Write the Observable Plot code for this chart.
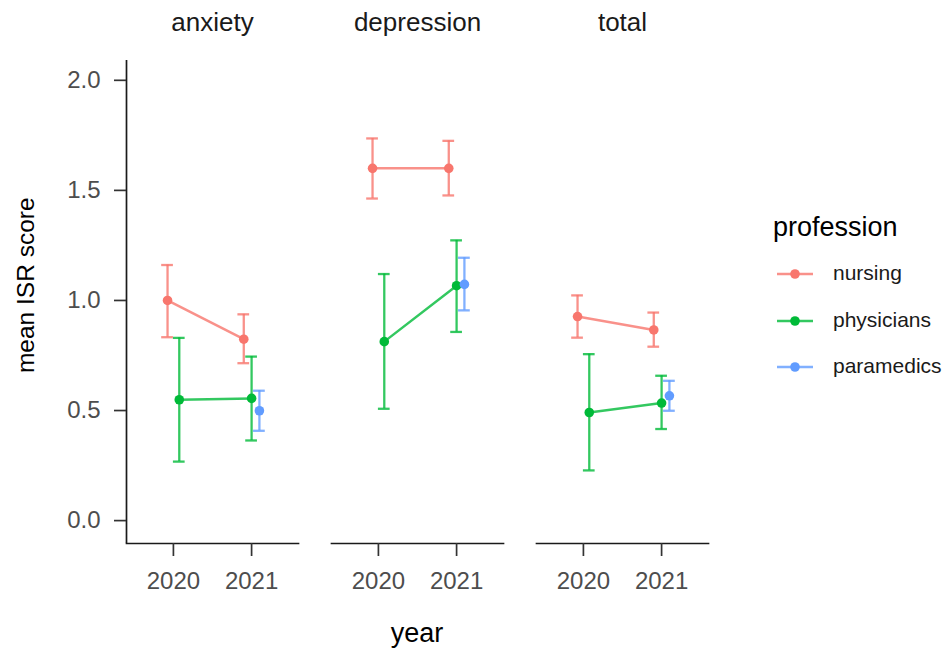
<!DOCTYPE html>
<html><head><meta charset="utf-8">
<script src="https://cdn.jsdelivr.net/npm/d3@7"></script>
<script src="https://cdn.jsdelivr.net/npm/@observablehq/plot@0.6"></script>
<style>
body{margin:0;background:#fff;}
#wrap{position:relative;width:949px;height:650px;font-family:"Liberation Sans",Arial,sans-serif;overflow:hidden;}
.lbl{position:absolute;white-space:nowrap;line-height:1;}
</style></head><body><div id="wrap"></div>
<script>
const measures = ["anxiety", "depression", "total"];
const professions = ["nursing", "physicians", "paramedics"];
const colors = ["#F8766D", "#00BA38", "#619CFF"];
const years = [2020, 2021];
const yTicks = [0, 0.5, 1, 1.5, 2];

// order: anxiety 2020, anxiety 2021, depression 2020, depression 2021, total 2020, total 2021
const nursingMean = [1.000, 0.824, 1.600, 1.600, 0.927, 0.866];
const nursingLow  = [0.833, 0.715, 1.463, 1.477, 0.831, 0.790];
const nursingHigh = [1.161, 0.937, 1.736, 1.725, 1.023, 0.945];
const physiciansMean = [0.549, 0.555, 0.813, 1.067, 0.491, 0.534];
const physiciansLow  = [0.268, 0.364, 0.508, 0.857, 0.228, 0.416];
const physiciansHigh = [0.830, 0.745, 1.120, 1.273, 0.756, 0.658];
// paramedics: 2021 only; order anxiety, depression, total
const paramedicsMean = [0.499, 1.073, 0.567];
const paramedicsLow  = [0.408, 0.955, 0.499];
const paramedicsHigh = [0.590, 1.194, 0.635];

const rows = [];
measures.forEach((m, i) => {
  years.forEach((yr, j) => {
    const k = i * 2 + j;
    rows.push({measure: m, profession: "nursing", year: yr, mean: nursingMean[k], low: nursingLow[k], high: nursingHigh[k]});
    rows.push({measure: m, profession: "physicians", year: yr, mean: physiciansMean[k], low: physiciansLow[k], high: physiciansHigh[k]});
  });
  rows.push({measure: m, profession: "paramedics", year: 2021, mean: paramedicsMean[i], low: paramedicsLow[i], high: paramedicsHigh[i]});
});

// position dodge (width 0.3)
const dodgeWidth = 0.3;
d3.group(rows, d => d.measure, d => d.year).forEach(byYear => byYear.forEach(g => {
  g.sort((a, b) => professions.indexOf(a.profession) - professions.indexOf(b.profession));
  const n = g.length;
  g.forEach((d, i) => { d.x = d.year + (i - (n - 1) / 2) * dodgeWidth / n; });
}));
const capHalf = 0.075;
const xDomain = [2019.4, 2021.6];
const yDomain = [-0.104, 2.09];
const ink = "#1a1a1a";

const chart = Plot.plot({
  width: 949, height: 650,
  marginLeft: 126, marginRight: 241, marginTop: 60, marginBottom: 107,
  style: {fontFamily: '"Liberation Sans", Arial, sans-serif', fontSize: "24px", background: "white", overflow: "visible"},
  fx: {domain: measures, paddingInner: 0.161, paddingOuter: 0, label: null},
  x: {domain: xDomain},
  y: {domain: yDomain},
  color: {domain: professions, range: colors},
  marks: [
    Plot.frame({anchor: "bottom", stroke: ink, strokeWidth: 1.7}),
    Plot.ruleX([measures[0]], {fx: d => d, x: () => xDomain[0], stroke: ink, strokeWidth: 1.7}),
    Plot.axisFx({anchor: "top", tickSize: 0, tickPadding: 30, fontSize: 26, fill: ink, label: null}),
    Plot.axisX({ticks: years, tickFormat: "d", tickSize: 13, tickPadding: 15, stroke: "#333", strokeWidth: 1.7, fill: "#4D4D4D", label: null, fontSize: 24}),
    Plot.axisY({ticks: yTicks, tickFormat: ".1f", tickSize: 12, tickPadding: 14, stroke: "#333", strokeWidth: 1.7, fill: "#4D4D4D", label: null, fontSize: 24}),
    Plot.ruleX(rows, {fx: "measure", x: "x", y1: "low", y2: "high", stroke: "profession", strokeWidth: 2.3, strokeOpacity: 0.8}),
    Plot.ruleY(rows, {fx: "measure", y: "high", x1: d => d.x - capHalf, x2: d => d.x + capHalf, stroke: "profession", strokeWidth: 2.3, strokeOpacity: 0.8}),
    Plot.ruleY(rows, {fx: "measure", y: "low", x1: d => d.x - capHalf, x2: d => d.x + capHalf, stroke: "profession", strokeWidth: 2.3, strokeOpacity: 0.8}),
    Plot.line(rows, {fx: "measure", x: "x", y: "mean", z: "profession", stroke: "profession", strokeWidth: 2.5, strokeOpacity: 0.8}),
    Plot.dot(rows, {fx: "measure", x: "x", y: "mean", r: 4.8, fill: "profession", stroke: "none"})
  ]
});

const wrap = document.getElementById("wrap");
wrap.appendChild(chart);

function addLabel(text, left, top, size, color) {
  const d = document.createElement("div");
  d.className = "lbl";
  d.style.left = left + "px"; d.style.top = top + "px";
  d.style.fontSize = size + "px"; d.style.color = color;
  d.textContent = text;
  wrap.appendChild(d);
  return d;
}

// axis titles
const yr = addLabel("year", 0, 620, 27, "#000");
yr.style.left = (417 - yr.getBoundingClientRect().width / 2) + "px";
{
  const w = addLabel("mean ISR score", 0, 0, 24.5, "#000");
  const bw = w.getBoundingClientRect().width;
  const bh = w.getBoundingClientRect().height;
  w.style.left = (26 - bw / 2) + "px";
  w.style.top = (285 - bh / 2) + "px";
  w.style.transformOrigin = "center center";
  w.style.transform = "rotate(-90deg)";
}

// legend
addLabel("profession", 773, 214, 27, "#000");
const keyY = [274, 321, 367];
const ns = "http://www.w3.org/2000/svg";
professions.forEach((p, i) => {
  const sv = document.createElementNS(ns, "svg");
  sv.setAttribute("width", 40); sv.setAttribute("height", 12);
  sv.style.position = "absolute"; sv.style.left = "775px"; sv.style.top = (keyY[i] - 6) + "px";
  const ln = document.createElementNS(ns, "line");
  ln.setAttribute("x1", 2); ln.setAttribute("x2", 38); ln.setAttribute("y1", 6); ln.setAttribute("y2", 6);
  ln.setAttribute("stroke", colors[i]); ln.setAttribute("stroke-width", 2.5); ln.setAttribute("stroke-opacity", 0.8);
  const c = document.createElementNS(ns, "circle");
  c.setAttribute("cx", 20); c.setAttribute("cy", 6); c.setAttribute("r", 4.8); c.setAttribute("fill", colors[i]);
  sv.appendChild(ln); sv.appendChild(c);
  wrap.appendChild(sv);
  addLabel(p, 833, keyY[i] - 12.5, 21, "#1a1a1a");
});
</script></body></html>
